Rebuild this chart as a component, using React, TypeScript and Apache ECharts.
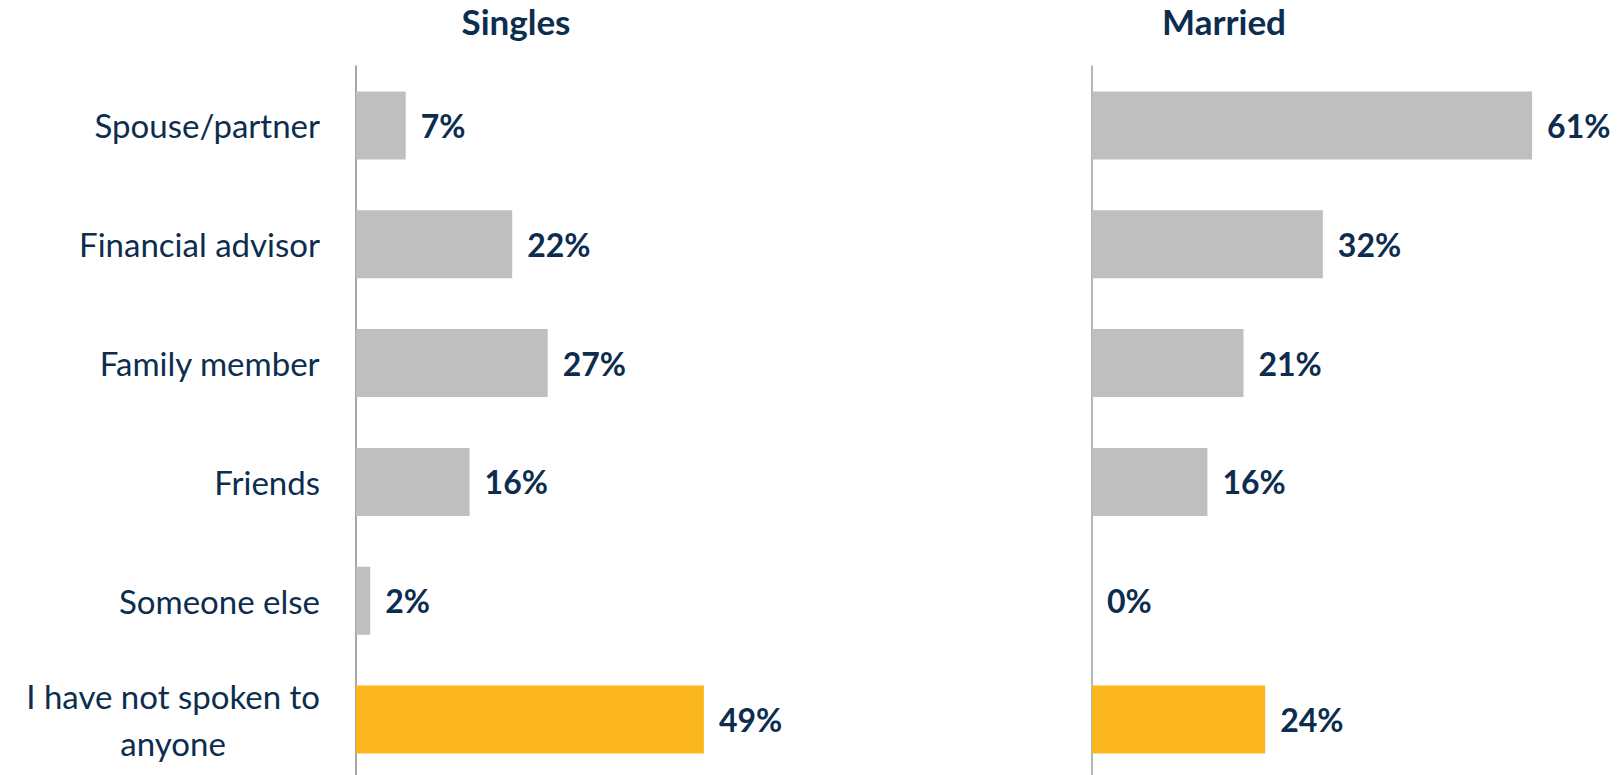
import React, { useEffect, useRef } from "react";
import * as echarts from "echarts";

const categories = [
  "Spouse/partner",
  "Financial advisor",
  "Family member",
  "Friends",
  "Someone else",
  "I have not spoken to\nanyone",
];
const singlesValues = [7, 22, 27, 16, 2, 49];
const marriedValues = [61, 32, 21, 16, 0, 24];
const panelTitles = ["Singles", "Married"];
const highlightIndex = 5;

const NAVY = "#0c2d4e";
const GRAY = "#bfbfbf";
const GOLD = "#fdb71e";
const FONT = "Lato, 'Liberation Sans', sans-serif";

function barData(values: number[]) {
  return values.map((v, i) => ({
    value: v,
    itemStyle: { color: i === highlightIndex ? GOLD : GRAY },
  }));
}

export default function App() {
  const ref = useRef<HTMLDivElement>(null);
  useEffect(() => {
    if (!ref.current) return;
    const chart = echarts.init(ref.current, undefined, { renderer: "svg" });
    const labelStyle = {
      show: true,
      position: "right" as const,
      distance: 15,
      formatter: "{c}%",
      color: NAVY,
      fontWeight: "bold" as const,
      fontSize: 32,
      fontFamily: FONT,
    };
    const titleStyle = { color: NAVY, fontSize: 35, fontWeight: "bold", fontFamily: FONT };
    chart.setOption({
      animation: false,
      backgroundColor: "#ffffff",
      title: [
        { text: panelTitles[0], left: 516, top: 3, padding: 0, textAlign: "center", textStyle: titleStyle },
        { text: panelTitles[1], left: 1224, top: 3, padding: 0, textAlign: "center", textStyle: titleStyle },
      ],
      grid: [
        { left: 356, top: 66, width: 426, height: 713, containLabel: false, outerBoundsMode: "none" },
        { left: 1092, top: 66, width: 505, height: 713, containLabel: false, outerBoundsMode: "none" },
      ],
      xAxis: [
        { type: "value", gridIndex: 0, min: 0, max: 60, show: false },
        { type: "value", gridIndex: 1, min: 0, max: 70, show: false },
      ],
      yAxis: [
        {
          type: "category",
          gridIndex: 0,
          data: categories,
          inverse: true,
          axisLine: { show: true, lineStyle: { color: "#878a93", width: 1.5 } },
          axisTick: { show: false },
          splitLine: { show: false },
          axisLabel: {
            margin: 36,
            formatter: (v: string) =>
              v
                .split("\n")
                .map((l) => "{c|" + l + "}")
                .join("\n"),
            rich: {
              c: {
                align: "center",
                color: NAVY,
                fontSize: 33,
                fontFamily: FONT,
                lineHeight: 47,
              },
            },
          },
        },
        {
          type: "category",
          gridIndex: 1,
          data: categories,
          inverse: true,
          axisLine: { show: true, lineStyle: { color: "#8fa39e", width: 1.5 } },
          axisTick: { show: false },
          splitLine: { show: false },
          axisLabel: { show: false },
        },
      ],
      series: [
        {
          type: "bar",
          xAxisIndex: 0,
          yAxisIndex: 0,
          data: barData(singlesValues),
          barWidth: 68,
          label: labelStyle,
        },
        {
          type: "bar",
          xAxisIndex: 1,
          yAxisIndex: 1,
          data: barData(marriedValues),
          barWidth: 68,
          label: labelStyle,
        },
      ],
    });
    return () => chart.dispose();
  }, []);
  return (
    <div
      ref={ref}
      style={{ position: "fixed", left: 0, top: 0, width: 1623, height: 775 }}
    />
  );
}
